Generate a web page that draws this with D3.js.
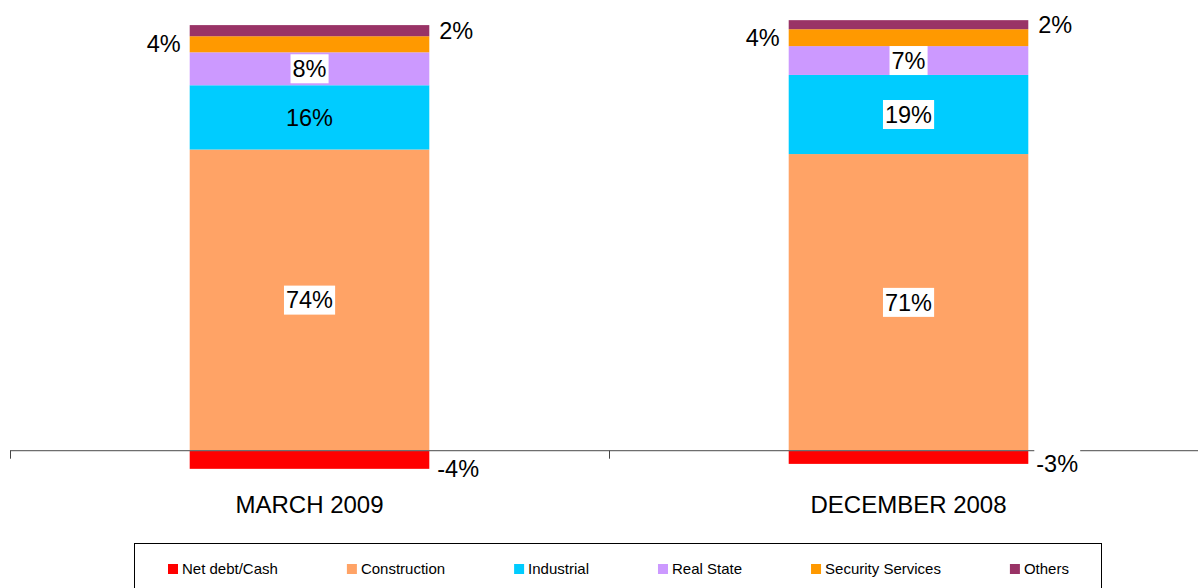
<!DOCTYPE html>
<html>
<head>
<meta charset="utf-8">
<script src="https://cdn.jsdelivr.net/npm/d3@7"></script>
<style>
  body { margin: 0; background: #fff; }
  svg { display: block; font-family: "Liberation Sans", Arial, sans-serif; }
</style>
</head>
<body>
<svg id="chart" width="1198" height="588"></svg>
<script>
// categories and series (in % of total)
const categories = ["MARCH 2009", "DECEMBER 2008"];
const seriesNames = ["Net debt/Cash", "Construction", "Industrial", "Real State", "Security Services", "Others"];
const seriesColors = ["#FF0000", "#FFA366", "#00CCFF", "#CC99FF", "#FF9900", "#993366"];

const netDebt = [-4.4, -3.2];
const construction = [73.1, 72.0];
const industrial = [15.6, 19.2];
const realState = [8.0, 7.0];
const security = [3.9, 4.1];
const others = [2.7, 2.2];

// printed labels
const netDebtLabels = ["-4%", "-3%"];
const constructionLabels = ["74%", "71%"];
const industrialLabels = ["16%", "19%"];
const realStateLabels = ["8%", "7%"];
const securityLabels = ["4%", "4%"];
const othersLabels = ["2%", "2%"];

const svg = d3.select("#chart");

const seriesValues = [netDebt, construction, industrial, realState, security, others];
const seriesLabels = [netDebtLabels, constructionLabels, industrialLabels, realStateLabels, securityLabels, othersLabels];

const rows = categories.map((c, i) => {
    const r = { cat: c };
    seriesNames.forEach((s, k) => r[s] = seriesValues[k][i]);
    return r;
});

const stack = d3.stack().keys(seriesNames).offset(d3.stackOffsetDiverging);
const layers = stack(rows);

const x = d3.scaleBand().domain(categories).range([10, 1208]).padding(0);
const barW = x.bandwidth() * 0.4;
const y = d3.scaleLinear().domain([-5, 105]).range([450.7 + 5 * 4.12, 450.7 - 105 * 4.12]);

// bars
const g = svg.append("g");
layers.forEach((layer, k) => {
    g.selectAll(null)
        .data(layer)
        .enter().append("rect")
        .attr("x", d => x(d.data.cat) + (x.bandwidth() - barW) / 2)
        .attr("y", d => y(d[1]))
        .attr("width", barW)
        .attr("height", d => y(d[0]) - y(d[1]))
        .attr("fill", seriesColors[k]);
});

// axis line and ticks at band boundaries
const y0 = y(0);
svg.append("line")
    .attr("x1", x.range()[0]).attr("x2", x.range()[1])
    .attr("y1", y0).attr("y2", y0)
    .attr("stroke", "#6e6e6e").attr("stroke-width", 1.3);
const bounds = categories.map(c => x(c)).concat([x.range()[1]]);
svg.selectAll(null)
    .data(bounds)
    .enter().append("line")
    .attr("x1", d => d + 0.5).attr("x2", d => d + 0.5)
    .attr("y1", y0).attr("y2", y0 + 8)
    .attr("stroke", "#444").attr("stroke-width", 1);

// category labels
svg.selectAll(null)
    .data(categories)
    .enter().append("text")
    .attr("x", d => x(d) + x.bandwidth() / 2)
    .attr("y", 513)
    .attr("text-anchor", "middle")
    .attr("font-size", 24)
    .attr("fill", "#000")
    .text(d => d);

// data labels
const FS = 23.5;
function label(px, py, txt, anchor, boxed) {
    const t = svg.append("text")
        .attr("x", px).attr("y", py)
        .attr("dy", "0.35em")
        .attr("text-anchor", anchor)
        .attr("font-size", FS)
        .attr("fill", "#000")
        .text(txt);
    if (boxed) {
        const b = t.node().getBBox();
        svg.insert("rect", () => t.node())
            .attr("x", b.x - 2).attr("y", py - 14.5)
            .attr("width", b.width + 4).attr("height", 29)
            .attr("fill", "#fff");
    }
}

const industrialBoxed = [false, true];
categories.forEach((c, i) => {
    const left = x(c) + (x.bandwidth() - barW) / 2;
    const right = left + barW;
    const mid = left + barW / 2;
    const seg = k => layers[k][i];
    // net debt: right of the bar, at its bottom
    label(right + 8, y(seg(0)[0]), seriesLabels[0][i], "start", true);
    // inside labels
    label(mid, (y(seg(1)[0]) + y(seg(1)[1])) / 2, seriesLabels[1][i], "middle", true);
    label(mid, (y(seg(2)[0]) + y(seg(2)[1])) / 2, seriesLabels[2][i], "middle", industrialBoxed[i]);
    label(mid, (y(seg(3)[0]) + y(seg(3)[1])) / 2, seriesLabels[3][i], "middle", true);
    // security on the left, others on the right
    label(left - 9, (y(seg(4)[0]) + y(seg(4)[1])) / 2, seriesLabels[4][i], "end", false);
    label(right + 10, (y(seg(5)[0]) + y(seg(5)[1])) / 2, seriesLabels[5][i], "start", false);
});

// legend
svg.append("rect")
    .attr("x", 134.5).attr("y", 543.5)
    .attr("width", 967).attr("height", 60)
    .attr("fill", "#fff").attr("stroke", "#000").attr("stroke-width", 1);

let lx = 168;
seriesNames.forEach((s, k) => {
    svg.append("rect")
        .attr("x", lx).attr("y", 564)
        .attr("width", 10).attr("height", 10)
        .attr("fill", seriesColors[k]);
    const t = svg.append("text")
        .attr("x", lx + 14).attr("y", 569)
        .attr("dy", "0.35em")
        .attr("font-size", 15)
        .attr("fill", "#000")
        .text(s);
    lx += 14 + t.node().getComputedTextLength() + 69;
});
</script>
</body>
</html>
